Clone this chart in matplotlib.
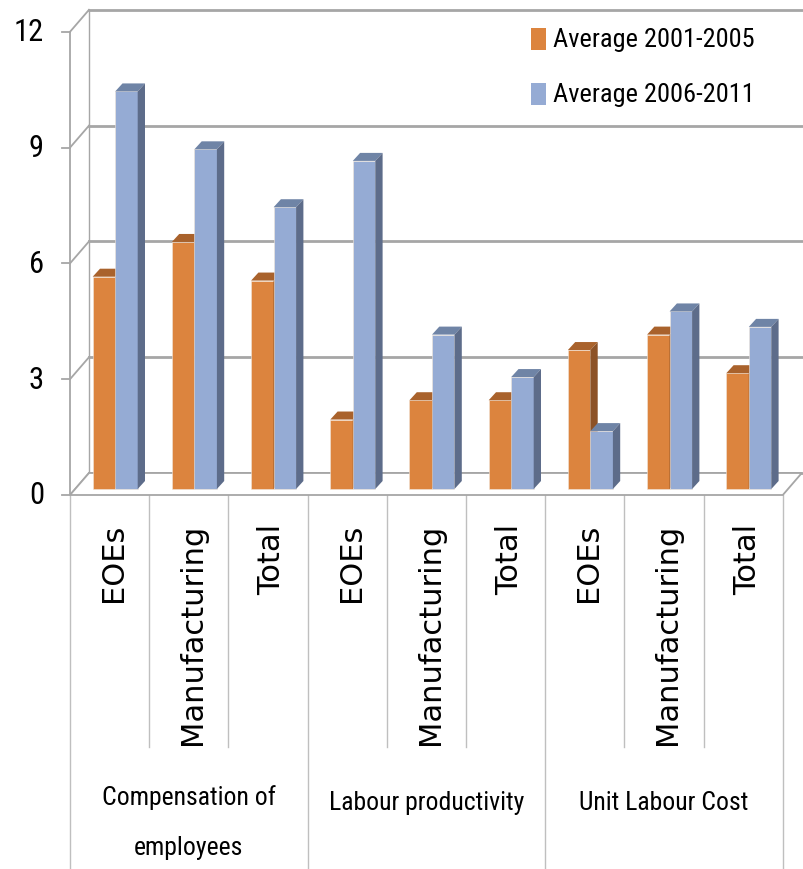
import matplotlib
matplotlib.use('Agg')
import matplotlib.pyplot as plt
from matplotlib.patches import Polygon, Rectangle

# average annual growth, %
groups = ['Compensation of\nemployees', 'Labour productivity', 'Unit Labour Cost']
sectors = ['EOEs', 'Manufacturing', 'Total']
avg_2001_2005 = [5.5, 6.4, 5.4, 1.8, 2.3, 2.3, 3.6, 4.0, 3.0]
avg_2006_2011 = [10.3, 8.8, 7.3, 8.5, 4.0, 2.9, 1.5, 4.6, 4.2]
series_names = ['Average 2001-2005', 'Average 2006-2011']
yticks = [0, 3, 6, 9, 12]

orange = {'front': '#DC843E', 'top': '#A9622C', 'side': '#8C5227'}
blue = {'front': '#95ABD4', 'top': '#6F84A6', 'side': '#5D6C8A'}
grid_col = '#A6A6A6'
narrow = ['Roboto Condensed', 'Liberation Sans Narrow', 'Liberation Sans', 'DejaVu Sans']

# layout in pixels: plot origin, one category width, one y unit
W, H = 804, 870
X0, Y0 = 70, 496
CAT, UNIT = 79.2, 38.6

fig = plt.figure(figsize=(W / 100, H / 100), dpi=100)
ax = fig.add_axes([0, 0, 1, 1])
ax.set_xlim(-X0 / CAT, (W - X0) / CAT)
ax.set_ylim(-(H - Y0) / UNIT, Y0 / UNIT)
ax.axis('off')


def px_y(y):
    return -(y - Y0) / UNIT


def px_x(x):
    return (x - X0) / CAT


n = len(avg_2001_2005)
xmax = px_x(W)
dx, dy = 19 / CAT, 22 / UNIT          # depth of the box
bdx, bdy = 7.3 / CAT, 8 / UNIT        # depth of each bar
base = 6 / UNIT
bw = 22.5 / CAT
off = 22.7 / CAT

# floor
ax.add_patch(Polygon([(0, 0), (n, 0), (n + dx, dy), (dx, dy)], closed=True,
                     facecolor='white', edgecolor=grid_col, lw=1.3, zorder=1))

# back wall grid, side wall diagonals and front value axis
for v in yticks:
    ax.plot([dx, xmax], [v + dy, v + dy], color=grid_col, lw=2.0, zorder=0.5)
    ax.plot([0, dx], [v, v + dy], color=grid_col, lw=1.3, zorder=0.6)
    ax.plot([-8 / CAT, 0], [v, v], color=grid_col, lw=1.3, zorder=0.6)
    ax.text(px_x(44), v, str(v), ha='right', va='center', fontsize=22,
            family=narrow, color='black')
ax.plot([0, 0], [0, yticks[-1]], color=grid_col, lw=1.3, zorder=0.6)
ax.plot([dx, dx], [dy, yticks[-1] + dy], color=grid_col, lw=1.0, zorder=0.4)


def bar3d(x0, h, c):
    top = base + h
    ax.add_patch(Polygon([(x0, base), (x0 + bw, base), (x0 + bw, top), (x0, top)],
                         closed=True, facecolor=c['front'], edgecolor='#F2E6DA',
                         lw=0.4, zorder=3))
    ax.add_patch(Polygon([(x0, top), (x0 + bw, top), (x0 + bw + bdx, top + bdy),
                          (x0 + bdx, top + bdy)], closed=True,
                         facecolor=c['top'], edgecolor='none', zorder=3))
    ax.add_patch(Polygon([(x0 + bw, base), (x0 + bw + bdx, base + bdy),
                          (x0 + bw + bdx, top + bdy), (x0 + bw, top)], closed=True,
                         facecolor=c['side'], edgecolor='none', zorder=3))


for i in range(n):
    bar3d(i + off, avg_2001_2005[i], orange)
    bar3d(i + off + bw, avg_2006_2011[i], blue)

# category axis below the floor
sub_bottom = px_y(748)
ybot = px_y(H)
for i in range(n + 1):
    bottom = ybot if i % 3 == 0 else sub_bottom
    ax.plot([i, i], [0, bottom], color='#BFBFBF', lw=1.0, zorder=0.6)
for i in range(n):
    ax.text(i + 0.55, px_y(524), sectors[i % 3], rotation=90,
            ha='center', va='top', fontsize=22, family='DejaVu Sans')
for g, name in enumerate(groups):
    lines = name.split('\n')
    ys = [798, 848] if len(lines) == 2 else [803]
    for line, y in zip(lines, ys):
        ax.text(3 * g + 1.5, px_y(y), line, ha='center', va='center',
                fontsize=18.5, family=narrow)

# legend
for k, (name, c) in enumerate(zip(series_names, [orange, blue])):
    yc = px_y(40 + 55 * k)
    ax.add_patch(Rectangle((px_x(531), yc - 11 / UNIT), 15 / CAT, 22 / UNIT,
                           facecolor=c['front'], edgecolor='none', zorder=4))
    ax.text(px_x(553), yc, name, ha='left', va='center', fontsize=19,
            family=narrow)

fig.savefig('out.png', dpi=100)
